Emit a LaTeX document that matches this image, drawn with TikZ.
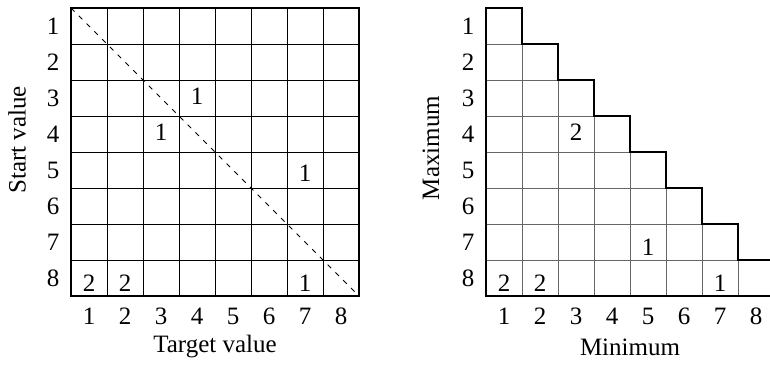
\documentclass[tikz,border=0pt]{standalone}
\usepackage{fontspec}
\setmainfont{Liberation Serif}
\begin{document}
\begin{tikzpicture}[x=1pt,y=-1pt,
  lbl/.style={font=\fontsize{25}{29}\selectfont, inner sep=0pt},
  inner/.style={line width=0.8pt, black},
  innergray/.style={line width=0.8pt, black!60},
  outer/.style={line width=1.6pt, black, line join=miter},
  diag/.style={line width=0.8pt, dash pattern=on 5pt off 6pt}]
\useasboundingbox (0,0) rectangle (770,366);
% ---------- left grid ----------
\foreach \i in {1,...,7}{
  \draw[inner] (71+36*\i,8) -- (71+36*\i,296);
  \draw[inner] (71,8+36*\i) -- (359,8+36*\i);
}
\draw[outer] (71,8) rectangle (359,296);
\coordinate (ltl) at (71,8);
\coordinate (lbr) at (359,296);
\draw[diag] (ltl) -- (lbr);
\foreach \i in {1,...,8}{
  \node[lbl] (lr\i) at (53,26+36*\i-36) {\i};
  \node[lbl] (lc\i) at (89+36*\i-36,316) {\i};
}
\node[lbl] (lxlab) at (215,347) {Target value};
\node[lbl, rotate=90] (lylab) at (17,140) {Start value};
\node[lbl] (l34) at (197,96) {1};
\node[lbl] (l43) at (161,132) {1};
\node[lbl] (l57) at (305,173) {1};
\node[lbl] (l81) at (89,283) {2};
\node[lbl] (l82) at (125,283) {2};
\node[lbl] (l87) at (305,283) {1};
% ---------- right grid ----------
\foreach \i in {1,...,7}{
  \draw[innergray] (486,8+36*\i) -- (486+36*\i,8+36*\i);
  \draw[innergray] (486+36*\i,8+36*\i) -- (486+36*\i,296);
}
\draw[outer] (486,296) -- (486,8) -- (522,8) -- (522,44) -- (558,44) -- (558,80)
  -- (594,80) -- (594,116) -- (630,116) -- (630,152) -- (666,152) -- (666,188)
  -- (702,188) -- (702,224) -- (738,224) -- (738,260) -- (774,260) -- (774,296) -- cycle;
\foreach \i in {1,...,8}{
  \node[lbl] (rr\i) at (468,26+36*\i-36) {\i};
  \node[lbl] (rc\i) at (504+36*\i-36,316) {\i};
}
\node[lbl] (rxlab) at (630,347) {Minimum};
\node[lbl, rotate=90] (rylab) at (431,148) {Maximum};
\node[lbl] (r43) at (576,132) {2};
\node[lbl] (r75) at (648,247) {1};
\node[lbl] (r81) at (504,283) {2};
\node[lbl] (r82) at (540,283) {2};
\node[lbl] (r87) at (720,283) {1};
\end{tikzpicture}
\end{document}
